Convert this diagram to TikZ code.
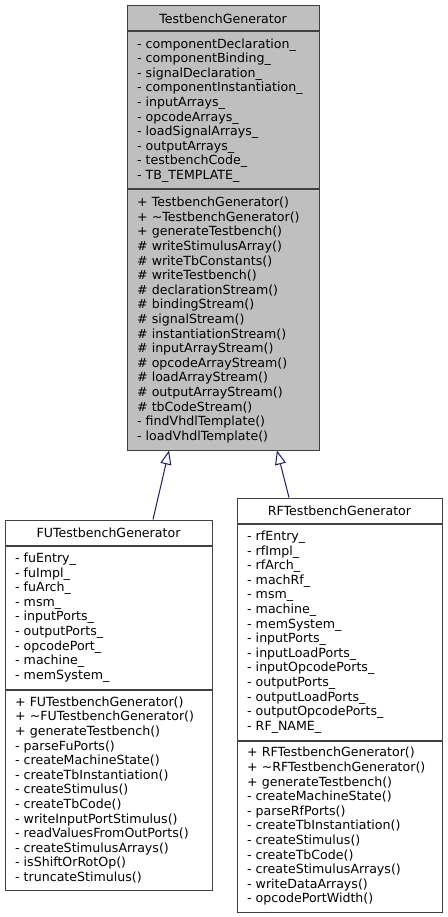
\documentclass[tikz,border=0pt]{standalone}
\usepackage{fontspec}
\setmainfont{DejaVu Sans}
\usetikzlibrary{arrows.meta}
\definecolor{boxline}{HTML}{404040}
\definecolor{basefill}{HTML}{BFBFBF}
\definecolor{edgeblue}{HTML}{191970}
\def\umlfont{\fontsize{12.6}{14.6}\selectfont}
\tikzset{
	classtitle/.style={draw=boxline, line width=1pt, minimum height=25pt, inner sep=0pt, font=\umlfont},
	classpart/.style={draw=boxline, line width=1pt, align=left, inner xsep=10pt, inner ysep=0pt, font=\umlfont, anchor=north},
	inherit/.style={draw=edgeblue, line width=1pt, -{Triangle[open, length=14pt, width=11pt]}}
}

\begin{document}
\begin{tikzpicture}[x=1pt, y=-1pt]
		%%%%% START %%%%%
		\useasboundingbox (0, 0) rectangle (447, 917);
		
		% base class
		\node[classtitle, fill=basefill, minimum width=192pt] (tbTitle) at (223, 18.5) {TestbenchGenerator};
		\node[classpart, fill=basefill, text width=172pt, minimum height=157pt] (tbAttr) at (tbTitle.south) {%
			- componentDeclaration\_\\
			- componentBinding\_\\
			- signalDeclaration\_\\
			- componentInstantiation\_\\
			- inputArrays\_\\
			- opcodeArrays\_\\
			- loadSignalArrays\_\\
			- outputArrays\_\\
			- testbenchCode\_\\
			- TB\_TEMPLATE\_};
		\node[classpart, fill=basefill, text width=172pt, minimum height=260pt] (tbOps) at (tbAttr.south) {%
			+ TestbenchGenerator()\\
			+ \textasciitilde TestbenchGenerator()\\
			+ generateTestbench()\\
			\# writeStimulusArray()\\
			\# writeTbConstants()\\
			\# writeTestbench()\\
			\# declarationStream()\\
			\# bindingStream()\\
			\# signalStream()\\
			\# instantiationStream()\\
			\# inputArrayStream()\\
			\# opcodeArrayStream()\\
			\# loadArrayStream()\\
			\# outputArrayStream()\\
			\# tbCodeStream()\\
			- findVhdlTemplate()\\
			- loadVhdlTemplate()};
		
		% FU generator
		\node[classtitle, minimum width=207pt] (fuTitle) at (108.5, 532.5) {FUTestbenchGenerator};
		\node[classpart, text width=187pt, minimum height=143pt] (fuAttr) at (fuTitle.south) {%
			- fuEntry\_\\
			- fuImpl\_\\
			- fuArch\_\\
			- msm\_\\
			- inputPorts\_\\
			- outputPorts\_\\
			- opcodePort\_\\
			- machine\_\\
			- memSystem\_};
		\node[classpart, text width=187pt, minimum height=200pt] (fuOps) at (fuAttr.south) {%
			+ FUTestbenchGenerator()\\
			+ \textasciitilde FUTestbenchGenerator()\\
			+ generateTestbench()\\
			- parseFuPorts()\\
			- createMachineState()\\
			- createTbInstantiation()\\
			- createStimulus()\\
			- createTbCode()\\
			- writeInputPortStimulus()\\
			- readValuesFromOutPorts()\\
			- createStimulusArrays()\\
			- isShiftOrRotOp()\\
			- truncateStimulus()};
		
		% RF generator
		\node[classtitle, minimum width=205pt] (rfTitle) at (339.5, 510.5) {RFTestbenchGenerator};
		\node[classpart, text width=185pt, minimum height=216pt] (rfAttr) at (rfTitle.south) {%
			- rfEntry\_\\
			- rfImpl\_\\
			- rfArch\_\\
			- machRf\_\\
			- msm\_\\
			- machine\_\\
			- memSystem\_\\
			- inputPorts\_\\
			- inputLoadPorts\_\\
			- inputOpcodePorts\_\\
			- outputPorts\_\\
			- outputLoadPorts\_\\
			- outputOpcodePorts\_\\
			- RF\_NAME\_};
		\node[classpart, text width=185pt, minimum height=171pt] (rfOps) at (rfAttr.south) {%
			+ RFTestbenchGenerator()\\
			+ \textasciitilde RFTestbenchGenerator()\\
			+ generateTestbench()\\
			- createMachineState()\\
			- parseRfPorts()\\
			- createTbInstantiation()\\
			- createStimulus()\\
			- createTbCode()\\
			- createStimulusArrays()\\
			- writeDataArrays()\\
			- opcodePortWidth()};
		
		% inheritance
		\draw[inherit] ([xshift=44.5pt]fuTitle.north) -- ([xshift=-54pt]tbOps.south);
		\draw[inherit] ([xshift=-50.5pt]rfTitle.north) -- ([xshift=54pt]tbOps.south);
		
		%%%%% END %%%%%
	\end{tikzpicture}
\end{document}
